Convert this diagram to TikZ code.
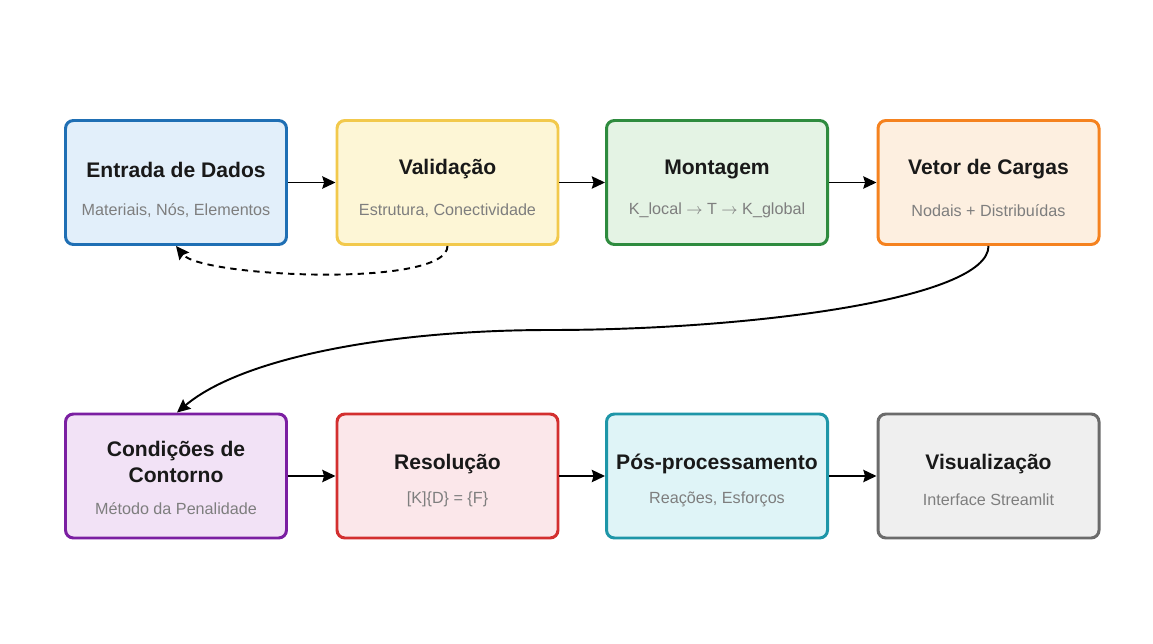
\documentclass[tikz,border=0pt]{standalone}
\usepackage{fontspec}
\setmainfont{Liberation Sans}
\usetikzlibrary{arrows.meta, positioning}

\definecolor{azulB}{HTML}{1F6FB4}   \definecolor{azulF}{HTML}{E2EFFA}
\definecolor{amarB}{HTML}{F2C94C}   \definecolor{amarF}{HTML}{FDF6D6}
\definecolor{verdeB}{HTML}{2E8B3E}  \definecolor{verdeF}{HTML}{E4F3E4}
\definecolor{laraB}{HTML}{F5821F}   \definecolor{laraF}{HTML}{FDEFE0}
\definecolor{roxoB}{HTML}{7B1FA2}   \definecolor{roxoF}{HTML}{F2E2F6}
\definecolor{vermB}{HTML}{D32F2F}   \definecolor{vermF}{HTML}{FBE7EA}
\definecolor{cianoB}{HTML}{1E96A8}  \definecolor{cianoF}{HTML}{DFF4F7}
\definecolor{cinzaB}{HTML}{6B6B6B}  \definecolor{cinzaF}{HTML}{EFEFEF}
\definecolor{textoSub}{HTML}{7E7E7E}

\newcommand{\seta}{\ensuremath{\rightarrow}}

\tikzset{
    etapa/.style={draw=#1B, fill=#1F, line width=1.7pt, rounded corners=4.5pt,
        minimum width=4.42cm, minimum height=2.48cm},
    titulo/.style={font=\fontsize{12}{15.3}\selectfont\bfseries, text=black!90, align=center},
    subtitulo/.style={font=\fontsize{9.2}{11}\selectfont, text=textoSub},
    fluxo/.style={line width=1.1pt, -{Stealth[length=7.5pt, width=7pt, inset=1pt]}},
}

\begin{document}
\begin{tikzpicture}

    \useasboundingbox[fill=white] (0,0) rectangle (23.06,12.86);  % page size

    % first row
    \node[etapa=azul]  (entrada)  at (3.52, 9.21) {};
    \node[etapa=amar]  (validacao) at (8.95, 9.21) {};
    \node[etapa=verde] (montagem) at (14.34, 9.21) {};
    \node[etapa=lara]  (vetor)    at (19.77, 9.21) {};
    % second row
    \node[etapa=roxo]  (contorno) at (3.52, 3.34) {};
    \node[etapa=verm]  (resolucao) at (8.95, 3.34) {};
    \node[etapa=ciano] (posproc)  at (14.34, 3.34) {};
    \node[etapa=cinza] (visual)   at (19.77, 3.34) {};

    \node[titulo] (tEntrada) at ([yshift=0.26cm]entrada.center) {Entrada de Dados};
    \node[subtitulo] (sEntrada) at ([yshift=-0.56cm]entrada.center) {Materiais, Nós, Elementos};
    \node[titulo] (tValidacao) at ([yshift=0.26cm]validacao.center) {Validação};
    \node[subtitulo] (sValidacao) at ([yshift=-0.56cm]validacao.center) {Estrutura, Conectividade};
    \node[titulo] (tMontagem) at ([yshift=0.26cm]montagem.center) {Montagem};
    \node[subtitulo] (sMontagem) at ([yshift=-0.56cm]montagem.center) {K\_local \seta{} T \seta{} K\_global};
    \node[titulo] (tVetor) at ([yshift=0.26cm]vetor.center) {Vetor de Cargas};
    \node[subtitulo] (sVetor) at ([yshift=-0.56cm]vetor.center) {Nodais + Distribuídas};

    \node[titulo] (tContorno) at ([yshift=0.28cm]contorno.center) {Condições de\\Contorno};
    \node[subtitulo] (sContorno) at ([yshift=-0.66cm]contorno.center) {Método da Penalidade};
    \node[titulo] (tResolucao) at ([yshift=0.24cm]resolucao.center) {Resolução};
    \node[subtitulo] (sResolucao) at ([yshift=-0.47cm]resolucao.center) {[K]\{D\} = \{F\}};
    \node[titulo] (tPosproc) at ([yshift=0.24cm]posproc.center) {Pós-processamento};
    \node[subtitulo] (sPosproc) at ([yshift=-0.47cm]posproc.center) {Reações, Esforços};
    \node[titulo] (tVisual) at ([yshift=0.24cm]visual.center) {Visualização};
    \node[subtitulo] (sVisual) at ([yshift=-0.47cm]visual.center) {Interface Streamlit};

    % straight links
    \draw[fluxo] (entrada) -- (validacao);
    \draw[fluxo] (validacao) -- (montagem);
    \draw[fluxo] (montagem) -- (vetor);
    \draw[fluxo] (contorno) -- (resolucao);
    \draw[fluxo] (resolucao) -- (posproc);
    \draw[fluxo] (posproc) -- (visual);

    % back to input on error
    \draw[fluxo, dash pattern=on 3.6pt off 3pt]
        (validacao.south) .. controls +(0,-0.85) and +(0.5,-0.62) .. (entrada.south);
    % next row
    \coordinate (meio) at (11.0, 6.26);
    \draw[fluxo]
        (vetor.south) .. controls +(0,-1.06) and +(4.0,0) .. (meio)
        .. controls +(-3.2,0) and +(1.3,1.1) .. ([xshift=0.02cm]contorno.north);

\end{tikzpicture}
\end{document}
